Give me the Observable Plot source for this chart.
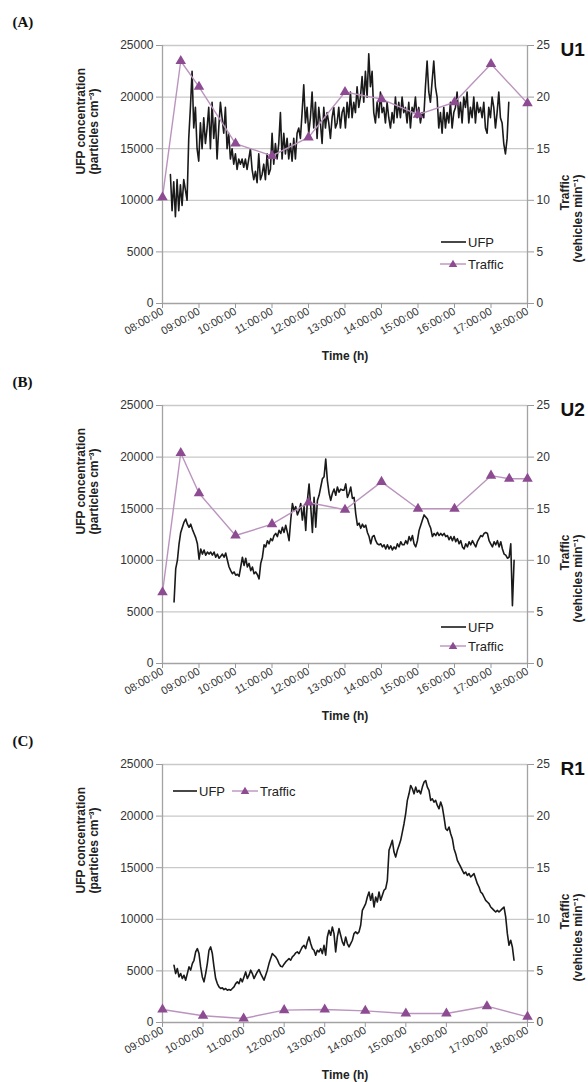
<!DOCTYPE html>
<html>
<head>
<meta charset="utf-8">
<script src="https://cdn.jsdelivr.net/npm/d3@7"></script>
<script src="https://cdn.jsdelivr.net/npm/@observablehq/plot@0.6"></script>
<style>
  html, body { margin: 0; padding: 0; background: #fff; }
  #page { position: relative; width: 588px; height: 1082px; overflow: hidden; font-family: "Liberation Sans", Arial, sans-serif; }
  .panel { position: absolute; left: 0; width: 588px; height: 360px; }
  .panel svg { overflow: visible; }
  .legend { position: absolute; left: 0; top: 0; overflow: visible; pointer-events: none; }
  [aria-label$="axis tick"] { stroke: #9a9a9a; }
  [aria-label$="tick label"] { fill: #333; }
</style>
</head>
<body>
<div id="page"></div>
<script>
// ---------- DATA ----------
const yTicks = [0, 5000, 10000, 15000, 20000, 25000];

// Panel A (U1)
const ufpA_start = "08:13";   // first reading
const ufpA_step = 2.74;       // minutes between readings
const ufpA = [12500, 9000, 11800, 8400, 12000, 9000, 11500, 9500, 12000, 11000, 10000, 16000, 19000, 22500, 17000, 19000, 15000, 13800, 17500, 15000,
  18000, 15500, 17000, 19000, 15000, 19500, 16000, 18000, 14000, 17000, 19500, 18000, 16500, 19000, 15000, 16500, 14000, 15000, 13500, 14500,
  13000, 14000, 13500, 14000, 13200, 14000, 13000, 14000, 15000, 13000, 12000, 12800, 11700, 14500, 12000, 12500, 13500, 12000, 14500, 12500,
  13000, 16500, 13500, 15500, 14000, 15500, 18500, 14000, 16500, 14500, 16000, 14000, 15500, 13800, 16000, 14000, 16500, 17000, 16000, 18500,
  21200, 17500, 19000, 16500, 18000, 20500, 17000, 19500, 16000, 19000, 17500, 15500, 19000, 17000, 18500, 17500, 16000, 18000, 19000, 17000,
  17500, 19000, 17000, 18500,
  19000, 17000, 19500, 18000, 20500, 18000, 19500, 18500, 21000, 19000, 20000, 22000, 19500, 22500, 20000, 24200, 21000, 22500, 18500, 17500,
  19500, 18000, 20500, 18500, 19000, 17500, 19500, 18000, 17000, 18500, 17500, 20000, 18000, 19500, 18000, 20000, 18500, 19000, 17500, 19500,
  17000, 19000, 18500, 20000, 18000, 19000, 17500, 18500, 18000, 21000, 23500, 20500, 19500, 21500, 23500, 21000, 20000, 17000, 18500, 16500,
  19000, 17000, 18500, 17500, 19500, 17000, 18500, 19000, 20500, 18000, 19500, 17500, 20000, 19000, 20500, 17500, 19000, 18000, 20000, 17500,
  19500, 18500, 19000, 18000, 19500, 17000, 16500, 19000, 18000, 20000, 19000, 17000, 18500, 20500, 18000, 17500, 15500, 14500, 16000, 19500];
const trafficA_time = ["08:00", "08:30", "09:00", "10:00", "11:00", "12:00", "13:00", "14:00", "15:00", "16:00", "17:00", "18:00"];
const trafficA = [10.3, 23.5, 21.0, 15.5, 14.3, 16.1, 20.5, 19.8, 18.3, 19.5, 23.2, 19.4];

// Panel B (U2)
const ufpB_start = "08:19";
const ufpB_step = 2.74;
const ufpB = [5970, 9200, 10000, 11600, 12700, 13200, 13700, 14000, 13500, 13200, 13500, 13000, 12600, 12200, 11600, 10100, 11100, 10600, 11000, 10500,
  10800, 10600, 10800, 10500, 10800, 10300, 10600, 10200, 10400, 10600, 10300, 10700, 10000, 9350, 9000, 8700, 8870, 8550, 8650, 8450,
  9350, 10300, 9500, 10200, 9350, 9700, 9000, 9350, 8700, 8870, 8600, 8200, 9700, 10300, 11500, 11300, 11900, 11600, 12100, 11900,
  12400, 12600, 12300, 12900, 12600, 13200, 12700, 13400, 12700, 11900, 13900, 15500, 14800, 15200, 14400, 14800, 15500, 13900, 15200, 12900,
  15800, 17400, 15200, 12700, 16100, 13200, 15800, 16300, 17100, 17900, 18100, 19800, 17700, 16500, 15800, 16500, 16900, 16300, 17100, 16600,
  16900, 16800,
  16800, 17400, 16100, 16500, 17100, 16000, 16100, 14500, 13400, 13600, 13100, 13500, 13200, 13400, 12700, 12300, 11600, 12300, 12400, 11900,
  11600, 11500, 11600, 11300, 11500, 11100, 11500, 11100, 11400, 11000, 11300, 11100, 11600, 11300, 11800, 11500, 11500, 11900, 11600, 12300,
  11900, 12400, 11600, 11300, 11900, 12900, 13400, 13900, 14400, 14200, 14000, 13500, 13100, 12300, 12600, 12400, 12700, 12400, 12600, 12400,
  12600, 12300, 12400, 12000, 12300, 11900, 12300, 11800, 12100, 11600, 11900, 11300, 11100, 11600, 11300, 11800, 11500, 11900, 11600, 11300,
  11800, 12100, 12400, 12300, 12600, 12700, 12600, 11900, 11600, 11300, 11800, 11500, 11900, 11300, 11800, 11100, 10600, 10500, 10200, 10300,
  11600, 5600, 10000];
const trafficB_time = ["08:00", "08:30", "09:00", "10:00", "11:00", "12:00", "13:00", "14:00", "15:00", "16:00", "17:00", "17:30", "18:00"];
const trafficB = [6.9, 20.4, 16.5, 12.4, 13.5, 15.6, 14.9, 17.6, 15.0, 15.0, 18.2, 17.9, 17.9];

// Panel C (R1)
const ufpC_start = "09:17";
const ufpC_step = 2.466;
const ufpC = [5550, 4740, 5230, 4420, 4740, 4260, 4580, 4100, 4740, 5390, 5070, 5710, 6030, 6840, 7160, 6680, 5390, 4420, 3940, 4740,
  5710, 7000, 7320, 6680, 5390, 4260, 3770, 3450, 3290, 3360, 3190, 3290, 3130, 3190, 3130, 3290, 3450, 3770, 3940, 3770,
  4260, 3940, 4420, 4900, 4260, 4580, 5070, 4740, 4260, 4580, 4900, 5130, 4740, 4420, 4100, 4580, 5070, 5710, 6190, 6680,
  6520, 6360, 6100, 5710, 5450, 5390, 5650, 5870, 6030, 6190, 6030, 6360, 6520, 6740, 6840, 6680, 7000, 7320, 7480, 7160,
  7810, 8290, 7650, 7160, 7000, 6520, 7000, 6840, 7160, 6680, 7480, 6520, 8290, 8940, 8450, 9260, 8610, 6840, 8290, 9100,
  8450, 7810, 7480, 8290, 7650, 7320, 7650, 7970, 8610, 8780, 8610, 8780, 9420, 10870, 11190, 11520, 12160, 12650, 11840, 12490,
  11190, 12160, 11680, 12650, 11840, 12320, 12810, 12970, 13780, 16680, 17160, 17650, 16520, 16030, 16680, 17160, 17650, 18450, 19260, 20230,
  21520, 22160, 22970, 22650, 22160, 22810, 22320, 22490, 22160, 22810, 23290, 23450, 22810, 22490, 21520, 21680, 21360, 21520, 21030, 20710,
  21360, 20870, 19900, 18780, 18610, 18940, 18290, 17810, 16840, 16360, 15710, 15390, 15070, 14740, 14420, 14580, 14260, 14420, 14100, 14260,
  14420, 13940, 13450, 13130, 12650, 12490, 12160, 11840, 11680, 11520, 11190, 11030, 10870, 10710, 10870, 10710, 10870, 11030, 11190, 10230,
  8610, 7480, 7970, 7320, 6030];
const trafficC_time = ["09:00", "10:00", "11:00", "12:00", "13:00", "14:00", "15:00", "16:00", "17:00", "18:00"];
const trafficC = [1.26, 0.65, 0.39, 1.2, 1.26, 1.13, 0.87, 0.87, 1.58, 0.55];

// ---------- HELPERS ----------
const hm = s => { const [h, m] = s.split(":").map(Number); return h + m / 60; };
const series = (vals, start, step) => { const s = hm(start); return vals.map((v, i) => ({x: s + i * step / 60, y: v})); };
const traffic = (times, vals) => times.map((t, i) => ({x: hm(t), v: vals[i]}));
const pad = h => String(h).padStart(2, "0") + ":00:00";

const LINE_C = "#1a1a1a", TRAF_LINE = "#bb94be", TRAF_MARK = "#8d4b91", GRID = "#c9c9c9", AXIS = "#a3a3a3";

function panel({ufp, traf, x0, tag, letter}) {
  const xt = d3.range(x0, 19);
  return Plot.plot({
    width: 588, height: 360,
    marginLeft: 162, marginRight: 61, marginTop: 45, marginBottom: 57,
    x: {domain: [x0, 18]},
    y: {domain: [0, 25000]},
    style: {fontFamily: "'Liberation Sans', Arial, sans-serif", background: "transparent", overflow: "visible"},
    marks: [
      Plot.gridY(yTicks.slice(1), {stroke: GRID, strokeOpacity: 1, strokeWidth: 1.3}),
      Plot.ruleX([x0], {stroke: AXIS, strokeWidth: 1.3}),
      Plot.ruleX([18], {stroke: AXIS, strokeWidth: 1.3}),
      Plot.ruleY([0], {stroke: AXIS, strokeWidth: 1.3}),
      Plot.axisY({anchor: "left", ticks: yTicks, tickFormat: d => String(d), tickSize: 6, tickPadding: 3, label: null, fontSize: 12}),
      Plot.axisY({anchor: "right", ticks: yTicks, tickFormat: d => String(d / 1000), tickSize: 6, tickPadding: 3, label: null, fontSize: 12}),
      Plot.axisX({ticks: xt, tickFormat: pad, tickRotate: -30, tickSize: 5, tickPadding: 2, label: null, fontSize: 11}),
      Plot.line(ufp, {x: "x", y: "y", stroke: LINE_C, strokeWidth: 1.6}),
      Plot.line(traf, {x: "x", y: d => d.v * 1000, stroke: TRAF_LINE, strokeWidth: 1.4}),
      Plot.dot(traf, {x: "x", y: d => d.v * 1000, symbol: "triangle", r: 3.9, fill: TRAF_MARK, stroke: "none"}),
      Plot.text(["UFP concentration\n(particles cm\u207B\u00B3)"], {text: d => d, frameAnchor: "left", dx: -75, rotate: -90, fontWeight: "bold", fontSize: 12, fill: "#222", lineHeight: 1.1}),
      Plot.text(["Traffic\n(vehicles min\u207B\u00B9)"], {text: d => d, frameAnchor: "right", dx: 44, rotate: -90, fontWeight: "bold", fontSize: 12, fill: "#222", lineHeight: 1.1}),
      Plot.text(["Time (h)"], {text: d => d, frameAnchor: "bottom", lineAnchor: "middle", dy: 53, fontWeight: "bold", fontSize: 12, fill: "#222"}),
      Plot.text([tag], {text: d => d, frameAnchor: "top-right", lineAnchor: "middle", textAnchor: "start", dx: 33, dy: 4, fontWeight: "bold", fontSize: 19, fill: "#111"}),
      Plot.text([letter], {text: d => d, frameAnchor: "top-left", lineAnchor: "middle", textAnchor: "start", dx: -150, dy: -23, fontWeight: "bold", fontSize: 15, fontFamily: "'Liberation Serif', 'Times New Roman', serif", fill: "#111"})
    ]
  });
}

function legendSvg(rows) {
  const ns = "http://www.w3.org/2000/svg";
  const svg = document.createElementNS(ns, "svg");
  svg.setAttribute("class", "legend");
  svg.setAttribute("width", 588); svg.setAttribute("height", 360);
  let html = "";
  for (const r of rows) {
    if (r.kind === "ufp") {
      html += `<line x1="${r.x1}" x2="${r.x2}" y1="${r.y}" y2="${r.y}" stroke="${LINE_C}" stroke-width="1.6"/>`;
    } else {
      html += `<line x1="${r.x1}" x2="${r.x2}" y1="${r.y}" y2="${r.y}" stroke="${TRAF_LINE}" stroke-width="1.4"/>`;
      const cx = (r.x1 + r.x2) / 2;
      html += `<path d="M${cx},${r.y - 4.2}L${cx + 4.3},${r.y + 3}L${cx - 4.3},${r.y + 3}Z" fill="${TRAF_MARK}"/>`;
    }
    html += `<text x="${r.x2 + 2}" y="${r.y}" dy="0.35em" font-size="13" font-family="'Liberation Sans', Arial, sans-serif" fill="#222">${r.label}</text>`;
  }
  svg.innerHTML = html;
  return svg;
}

const page = document.getElementById("page");
const panels = [
  {top: 0, ufp: series(ufpA, ufpA_start, ufpA_step), traf: traffic(trafficA_time, trafficA), x0: 8, tag: "U1", letter: "(A)",
   legend: [{kind: "ufp", x1: 441, x2: 466, y: 242, label: "UFP"}, {kind: "traf", x1: 440, x2: 466, y: 264, label: "Traffic"}]},
  {top: 360, ufp: series(ufpB, ufpB_start, ufpB_step), traf: traffic(trafficB_time, trafficB), x0: 8, tag: "U2", letter: "(B)",
   legend: [{kind: "ufp", x1: 441, x2: 466, y: 267, label: "UFP"}, {kind: "traf", x1: 440, x2: 466, y: 286, label: "Traffic"}]},
  {top: 719, ufp: series(ufpC, ufpC_start, ufpC_step), traf: traffic(trafficC_time, trafficC), x0: 9, tag: "R1", letter: "(C)",
   legend: [{kind: "ufp", x1: 173, x2: 197, y: 72, label: "UFP"}, {kind: "traf", x1: 232, x2: 258, y: 72, label: "Traffic"}]}
];
for (const p of panels) {
  const div = document.createElement("div");
  div.className = "panel";
  div.style.top = p.top + "px";
  div.appendChild(panel(p));
  div.appendChild(legendSvg(p.legend));
  page.appendChild(div);
}
</script>
</body>
</html>
